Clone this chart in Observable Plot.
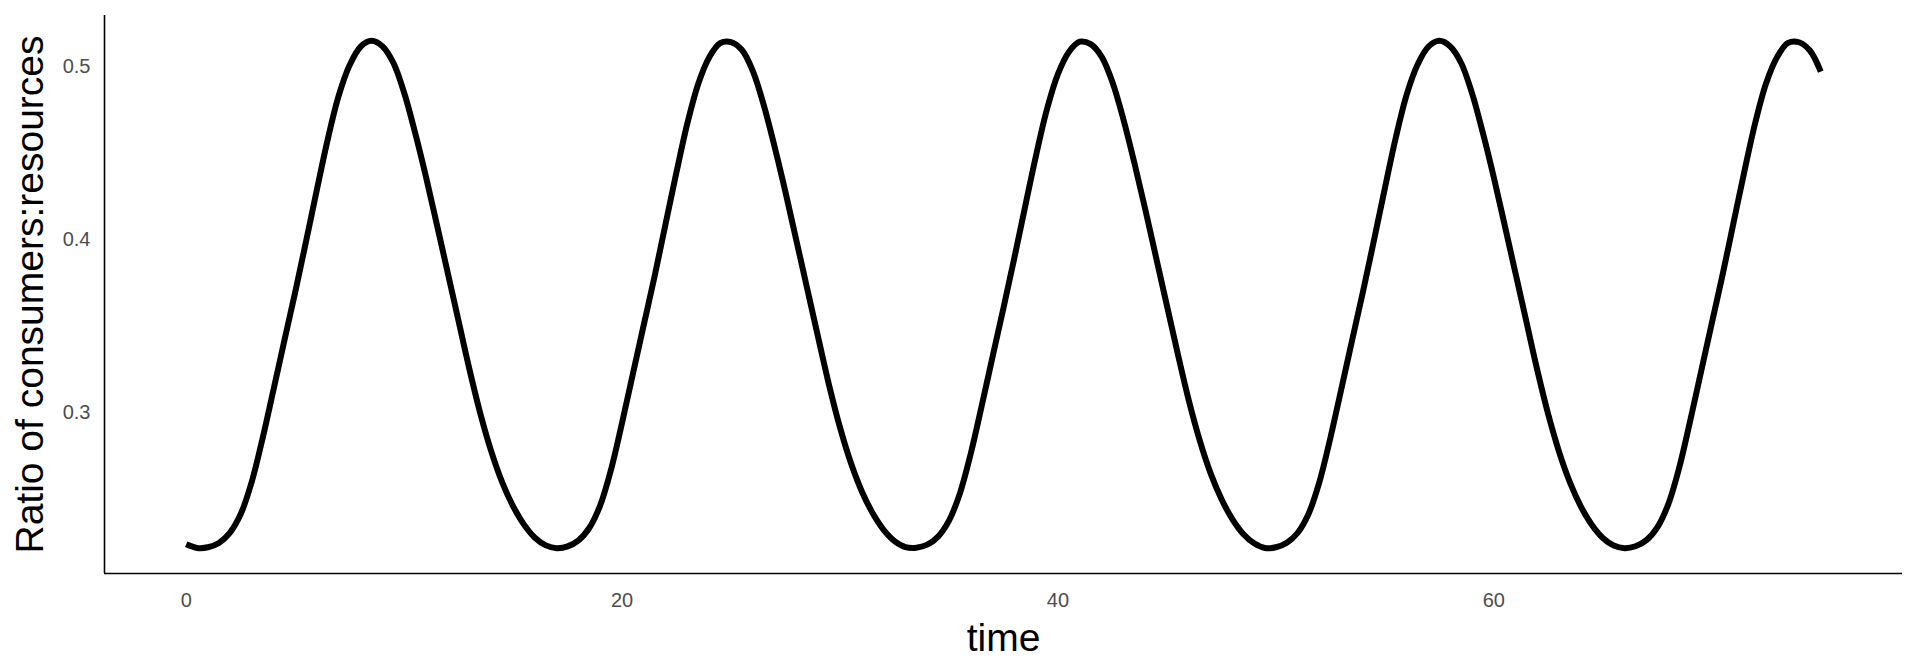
<!DOCTYPE html>
<html>
<head>
<meta charset="utf-8">
<script src="https://cdn.jsdelivr.net/npm/d3@7"></script>
<script src="https://cdn.jsdelivr.net/npm/@observablehq/plot@0.6"></script>
<style>
  html, body { margin: 0; padding: 0; background: #ffffff; }
  #chart { width: 1920px; height: 672px; }
  g[aria-label="x-axis label"] text, g[aria-label="y-axis label"] text { fill: #000000; font-size: 39px; }
</style>
</head>
<body>
<div id="chart"></div>
<script>
// time steps (every half unit)
const time = [
  0, 0.5, 1, 1.5, 2, 2.5, 3, 3.5, 4, 4.5, 5, 5.5, 6, 6.5, 7, 7.5, 8, 8.5, 9, 9.5,
  10, 10.5, 11, 11.5, 12, 12.5, 13, 13.5, 14, 14.5, 15, 15.5, 16, 16.5, 17, 17.5, 18, 18.5, 19, 19.5,
  20, 20.5, 21, 21.5, 22, 22.5, 23, 23.5, 24, 24.5, 25, 25.5, 26, 26.5, 27, 27.5, 28, 28.5, 29, 29.5,
  30, 30.5, 31, 31.5, 32, 32.5, 33, 33.5, 34, 34.5, 35, 35.5, 36, 36.5, 37, 37.5, 38, 38.5, 39, 39.5,
  40, 40.5, 41, 41.5, 42, 42.5, 43, 43.5, 44, 44.5, 45, 45.5, 46, 46.5, 47, 47.5, 48, 48.5, 49, 49.5,
  50, 50.5, 51, 51.5, 52, 52.5, 53, 53.5, 54, 54.5, 55, 55.5, 56, 56.5, 57, 57.5, 58, 58.5, 59, 59.5,
  60, 60.5, 61, 61.5, 62, 62.5, 63, 63.5, 64, 64.5, 65, 65.5, 66, 66.5, 67, 67.5, 68, 68.5, 69, 69.5,
  70, 70.5, 71, 71.5, 72, 72.5, 73, 73.5, 74, 74.5, 75
];
// ratio of consumers:resources at each time step
const ratio = [
  0.2226, 0.2205, 0.2209, 0.2234, 0.2292, 0.2401, 0.2585, 0.2837, 0.3118, 0.3403,
  0.3684, 0.3980, 0.4280, 0.4572, 0.4822, 0.4998, 0.5104, 0.5138, 0.5107, 0.5012,
  0.4838, 0.4608, 0.4352, 0.4076, 0.3796, 0.3516, 0.3236, 0.2980, 0.2762, 0.2584,
  0.2446, 0.2340, 0.2264, 0.2220, 0.2204, 0.2214, 0.2249, 0.2322, 0.2453, 0.2662,
  0.2930, 0.3215, 0.3499, 0.3782, 0.4082, 0.4381, 0.4664, 0.4892, 0.5043, 0.5125,
  0.5131, 0.5085, 0.4963, 0.4766, 0.4524, 0.4261, 0.3981, 0.3701, 0.3421, 0.3145,
  0.2901, 0.2696, 0.2532, 0.2406, 0.2310, 0.2245, 0.2210, 0.2206, 0.2224, 0.2271,
  0.2363, 0.2521, 0.2752, 0.3027, 0.3312, 0.3594, 0.3884, 0.4184, 0.4479, 0.4745,
  0.4947, 0.5074, 0.5133, 0.5119, 0.5047, 0.4899, 0.4685, 0.4435, 0.4166, 0.3886,
  0.3606, 0.3326, 0.3060, 0.2829, 0.2638, 0.2488, 0.2372, 0.2286, 0.2232, 0.2205,
  0.2209, 0.2235, 0.2293, 0.2403, 0.2589, 0.2842, 0.3124, 0.3409, 0.3690, 0.3986,
  0.4286, 0.4578, 0.4827, 0.5001, 0.5105, 0.5138, 0.5106, 0.5010, 0.4834, 0.4603,
  0.4347, 0.4070, 0.3790, 0.3510, 0.3230, 0.2975, 0.2758, 0.2581, 0.2443, 0.2338,
  0.2263, 0.2219, 0.2204, 0.2215, 0.2250, 0.2324, 0.2457, 0.2667, 0.2936, 0.3221,
  0.3505, 0.3788, 0.4088, 0.4386, 0.4668, 0.4896, 0.5045, 0.5126, 0.5130, 0.5082,
  0.4960
];
const xTicks = [0, 20, 40, 60];
const yTicks = [0.3, 0.4, 0.5];
const xLabel = "time";
const yLabel = "Ratio of consumers:resources";

const data = time.map((t, i) => ({time: t, ratio: ratio[i]}));

// ggplot-style 5% expansion of the data range
const xExt = d3.extent(time), yExt = d3.extent(ratio);
const xPad = (xExt[1] - xExt[0]) * 0.05, yPad = (yExt[1] - yExt[0]) * 0.05;
const xDomain = [xExt[0] - xPad, xExt[1] + xPad];
const yDomain = [yExt[0] - yPad, yExt[1] + yPad];

const chart = Plot.plot({
  width: 1920,
  height: 672,
  marginLeft: 104,
  marginRight: 18,
  marginTop: 15,
  marginBottom: 99,
  style: {fontFamily: "'Liberation Sans', Arial, sans-serif", background: "#ffffff", color: "#000000"},
  x: {domain: xDomain},
  y: {domain: yDomain},
  marks: [
    Plot.ruleY([yDomain[0]], {stroke: "#000000", strokeWidth: 1.6}),
    Plot.ruleX([xDomain[0]], {stroke: "#000000", strokeWidth: 1.6}),
    Plot.axisX(xTicks, {
      tickSize: 0, tickPadding: 19, fontSize: 20, color: "#4D4D4D",
      label: xLabel, labelAnchor: "center", labelOffset: 77, labelArrow: "none"
    }),
    Plot.axisY(yTicks, {
      tickSize: 0, tickPadding: 14, fontSize: 20, color: "#4D4D4D", dy: 2,
      tickFormat: d3.format(".1f"),
      label: yLabel, labelAnchor: "center", labelOffset: 89, labelArrow: "none"
    }),
    Plot.line(data, {x: "time", y: "ratio", stroke: "#000000", strokeWidth: 6, curve: "catmull-rom", strokeLinecap: "butt", strokeLinejoin: "round"})
  ]
});
document.getElementById("chart").appendChild(chart);
</script>
</body>
</html>
